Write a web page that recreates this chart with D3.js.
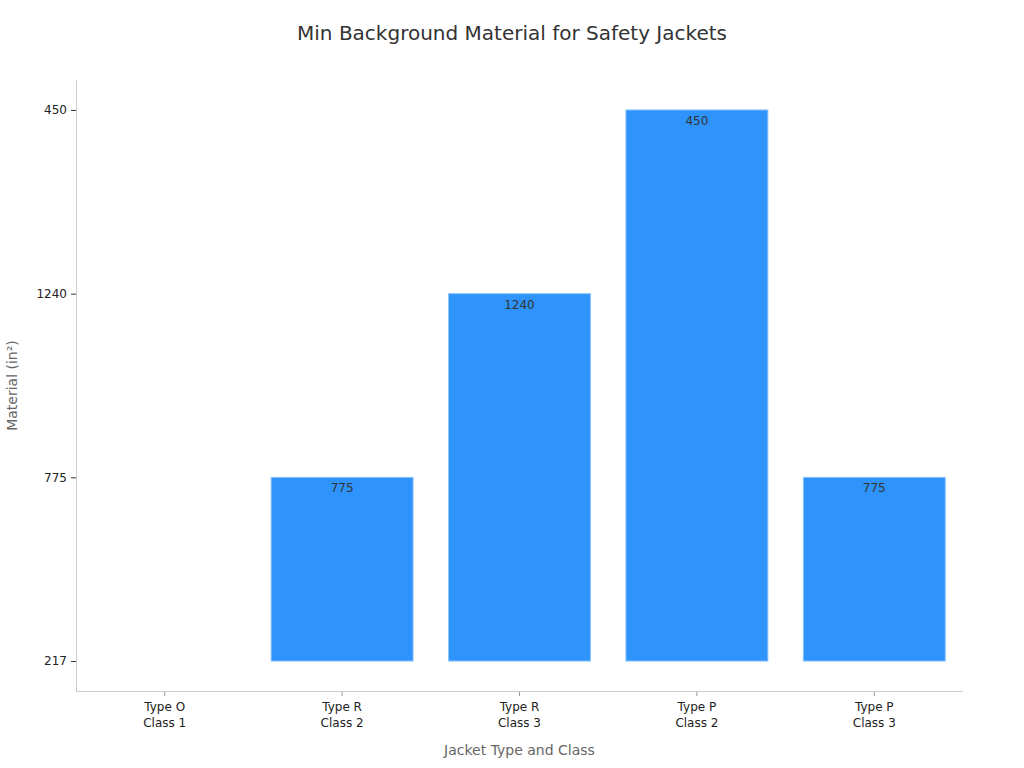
<!DOCTYPE html>
<html>
  <head>
    <meta charset="utf-8">
    <title>Min Background Material</title>
    <style>
      body { margin: 0; background: #fff; }
      svg, svg text { font-family: "DejaVu Sans", sans-serif; }
    </style>
    <script src="https://d3js.org/d3.v7.min.js"></script>
  </head>
  <body>
    <script>
      // data
      var categories = ["Type O\nClass 1", "Type R\nClass 2", "Type R\nClass 3", "Type P\nClass 2", "Type P\nClass 3"];
      var values = ["217", "775", "1240", "450", "775"];
      // the value axis is categorical, in order of first appearance
      var yTicks = ["217", "775", "1240", "450"];

      var width = 1024, height = 768;
      var margin = {top: 80, right: 61, bottom: 77, left: 76};

      var svg = d3.select("body").append("svg")
          .attr("width", width)
          .attr("height", height);

      var x = d3.scaleBand()
          .domain(categories)
          .range([margin.left, width - margin.right])
          .paddingInner(0.2)
          .paddingOuter(0.1);

      var y = d3.scalePoint()
          .domain(yTicks)
          .range([height - margin.bottom, margin.top])
          .padding(0.163);

      // title
      svg.append("text")
          .attr("x", width / 2)
          .attr("y", 40)
          .attr("text-anchor", "middle")
          .style("font-size", "20px")
          .style("fill", "#333")
          .text("Min Background Material for Safety Jackets");

      // bars from the first category level up to each value
      var base = y(yTicks[0]);
      svg.selectAll(".bar").data(values)
        .enter().append("rect")
          .attr("class", "bar")
          .attr("x", function (d, i) { return x(categories[i]); })
          .attr("width", x.bandwidth())
          .attr("y", function (d) { return y(d); })
          .attr("height", function (d) { return base - y(d); })
          .style("fill", "#2e93fa")
          .style("stroke", function (d) { return d === yTicks[0] ? "none" : "#8cc4fb"; })
          .style("stroke-width", 1);

      values.forEach(function (d, i) {
        if (d === yTicks[0]) return;
        svg.append("text")
            .attr("class", "lbl")
            .attr("x", x(categories[i]) + x.bandwidth() / 2)
            .attr("y", y(d) + 15)
            .attr("text-anchor", "middle")
            .style("font-size", "12px")
            .style("fill", "#333")
            .text(d);
      });

      // axes
      var xAxis = svg.append("g")
          .attr("transform", "translate(0," + (height - margin.bottom) + ")")
          .call(d3.axisBottom(x).tickSizeOuter(0).tickSize(5).tickFormat(""));
      xAxis.select(".domain").remove();
      xAxis.append("line")
          .attr("x1", margin.left).attr("x2", width - margin.right)
          .attr("y1", 0.5).attr("y2", 0.5)
          .attr("stroke", "#ccc");
      xAxis.selectAll(".tick line").attr("stroke", "#999");
      xAxis.selectAll(".tick").each(function (d) {
        var t = d3.select(this).append("text")
            .attr("text-anchor", "middle")
            .style("font-size", "12px")
            .style("font-family", "DejaVu Sans, sans-serif")
            .style("fill", "#222");
        d.split("\n").forEach(function (s, k) {
          t.append("tspan").attr("x", 0).attr("y", 20 + k * 16).text(s);
        });
      });

      var yAxis = svg.append("g")
          .attr("transform", "translate(" + margin.left + ",0)")
          .call(d3.axisLeft(y).tickSizeOuter(0).tickSize(5).tickPadding(4));
      yAxis.select(".domain").remove();
      yAxis.append("line")
          .attr("x1", 0.5).attr("x2", 0.5)
          .attr("y1", margin.top).attr("y2", height - margin.bottom)
          .attr("stroke", "#ccc");
      yAxis.selectAll(".tick line").attr("stroke", "#333");
      yAxis.selectAll(".tick text")
          .style("font-size", "12px")
          .style("font-family", "DejaVu Sans, sans-serif")
          .style("fill", "#222");

      // axis titles
      svg.append("text")
          .attr("x", (margin.left + width - margin.right) / 2)
          .attr("y", 755)
          .attr("text-anchor", "middle")
          .style("font-size", "14px")
          .style("fill", "#666")
          .text("Jacket Type and Class");

      svg.append("text")
          .attr("transform", "translate(17," + ((margin.top + height - margin.bottom) / 2) + ") rotate(-90)")
          .attr("text-anchor", "middle")
          .style("font-size", "14px")
          .style("fill", "#666")
          .text("Material (in²)");
    </script>
  </body>
</html>
